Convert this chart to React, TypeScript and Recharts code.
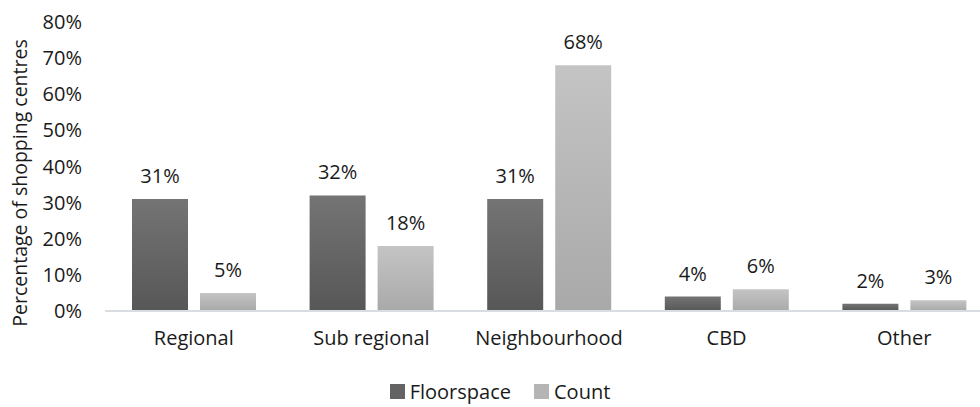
import React from 'react';
import { Bar, BarChart, LabelList, Legend, XAxis, YAxis } from 'recharts';

const centreTypes = ['Regional', 'Sub regional', 'Neighbourhood', 'CBD', 'Other'];
const floorspace = [31, 32, 31, 4, 2];
const count = [5, 18, 68, 6, 3];
const yTicks = [0, 10, 20, 30, 40, 50, 60, 70, 80];

const rows = centreTypes.map((name, i) => ({
  name,
  floorspace: floorspace[i],
  count: count[i],
}));

const FONT = '"Open Sans", "Noto Sans", sans-serif';
const TEXT = '#1a1a1a';
const FS = 20;

const series = [
  { key: 'floorspace', name: 'Floorspace', fill: 'url(#gradDark)', swatch: '#636363' },
  { key: 'count', name: 'Count', fill: 'url(#gradLight)', swatch: '#b5b5b5' },
];

const pct = (v: number) => `${v}%`;

// axis title sits a little below the plot's vertical middle
const YLabel = () => {
  const cx = 19;
  const cy = 183;
  return (
    <text
      x={cx}
      y={cy}
      transform={`rotate(-90 ${cx} ${cy})`}
      textAnchor="middle"
      dominantBaseline="central"
      fontSize={19.5}
      fontFamily={FONT}
      fill={TEXT}
    >
      Percentage of shopping centres
    </text>
  );
};

// legend kept in series order
const LegendItems = () => (
  <div
    style={{
      display: 'flex',
      justifyContent: 'center',
      gap: 23,
      paddingLeft: 20,
      fontFamily: FONT,
      fontSize: FS,
      color: TEXT,
    }}
  >
    {series.map((s) => (
      <div key={s.key} style={{ display: 'flex', alignItems: 'center', gap: 5 }}>
        <span style={{ width: 15, height: 15, background: s.swatch, display: 'inline-block' }} />
        <span>{s.name}</span>
      </div>
    ))}
  </div>
);

export default function App() {
  return (
    <div style={{ position: 'absolute', left: 0, top: 0, width: 980, height: 407, overflow: 'hidden', background: '#fff' }}>
      <BarChart
        width={980}
        height={407}
        data={rows}
        margin={{ top: 22, right: -13, bottom: 0, left: 0 }}
        barCategoryGap={27}
        barGap={12}
        style={{ overflow: 'hidden' }}
      >
        <defs>
          <linearGradient id="gradDark" x1="0" y1="0" x2="0" y2="1">
            <stop offset="0%" stopColor="#747474" />
            <stop offset="100%" stopColor="#575757" />
          </linearGradient>
          <linearGradient id="gradLight" x1="0" y1="0" x2="0" y2="1">
            <stop offset="0%" stopColor="#c4c4c4" />
            <stop offset="100%" stopColor="#a9a9a9" />
          </linearGradient>
        </defs>
        <XAxis
          dataKey="name"
          height={69}
          axisLine={{ stroke: '#d9dce0', strokeWidth: 2 }}
          tickLine={false}
          tickMargin={14}
          tick={{ fontSize: FS, fontFamily: FONT, fill: TEXT }}
          interval={0}
        />
        <YAxis
          width={105}
          domain={[0, 80]}
          ticks={yTicks}
          tickFormatter={pct}
          axisLine={false}
          tickLine={false}
          tickMargin={17}
          tick={{ fontSize: FS, fontFamily: FONT, fill: TEXT }}
          label={<YLabel />}
        />
        <Legend verticalAlign="bottom" align="center" wrapperStyle={{ bottom: 2, left: 0, width: 980 }} content={<LegendItems />} />
        {series.map((s) => (
          <Bar key={s.key} dataKey={s.key} name={s.name} fill={s.fill} isAnimationActive={false}>
            <LabelList
              dataKey={s.key}
              position="top"
              offset={16}
              formatter={pct}
              style={{ fontSize: FS, fontFamily: FONT, fill: TEXT }}
            />
          </Bar>
        ))}
      </BarChart>
    </div>
  );
}
